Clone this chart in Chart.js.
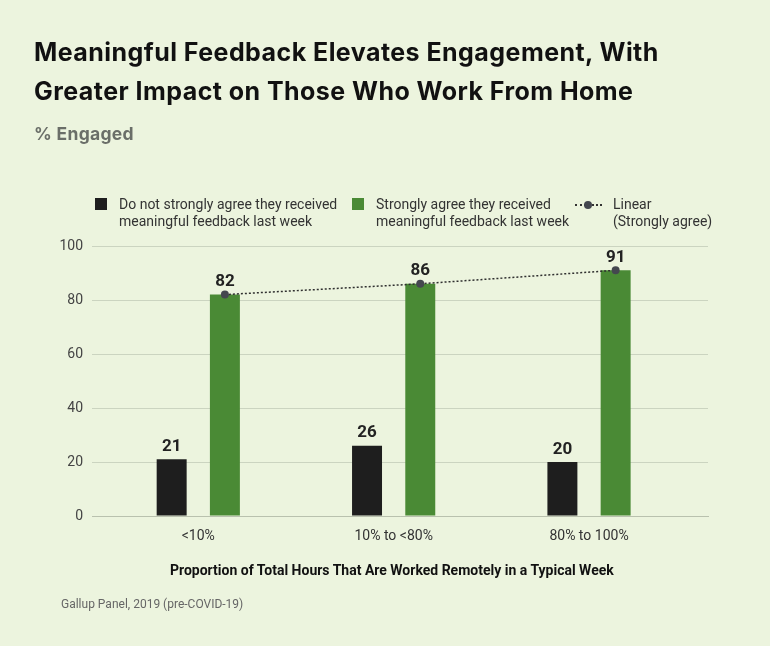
<!DOCTYPE html>
<html>
<head>
<meta charset="utf-8">
<script src="https://cdn.jsdelivr.net/npm/chart.js@4.4.1/dist/chart.umd.min.js"></script>
<style>
html, body { margin: 0; padding: 0; background: #ecf4de; }
#wrap { position: relative; width: 770px; height: 646px; overflow: hidden; background: #ecf4de; font-family: Roboto, sans-serif; }
#chart { position: absolute; left: 0; top: 0; }
.title { position: absolute; left: 34px; top: 33px; font-family: Inter, sans-serif; font-size: 25px; font-weight: 700; line-height: 39px; letter-spacing: 0.45px; color: #111; white-space: nowrap; }
.subtitle { position: absolute; left: 34px; top: 124px; font-family: Inter, sans-serif; font-size: 17.5px; font-weight: 700; line-height: 20px; letter-spacing: 0.3px; color: #6a6e68; }
.leg { position: absolute; top: 196px; font-size: 14px; line-height: 17px; color: #333; white-space: nowrap; }
.sw { position: absolute; top: 198px; width: 12px; height: 12px; }
.trend { position: absolute; left: 575px; top: 204px; width: 27px; border-top: 2px dotted #333; }
.trend span { position: absolute; left: 9px; top: -5px; width: 8px; height: 8px; border-radius: 50%; background: #44474f; }
.xtitle { position: absolute; left: 170px; top: 562px; font-size: 14px; font-weight: 700; color: #111; white-space: nowrap; }
.source { position: absolute; left: 61px; top: 597px; font-size: 12px; color: #666; white-space: nowrap; }
</style>
</head>
<body>
<div id="wrap">
  <canvas id="chart" width="770" height="646"></canvas>
  <div class="title">Meaningful Feedback Elevates Engagement, With<br>Greater Impact on Those Who Work From Home</div>
  <div class="subtitle">% Engaged</div>
  <div class="sw" style="left:95px;background:#1e1e1e"></div>
  <div class="leg" style="left:119px">Do not strongly agree they received<br>meaningful feedback last week</div>
  <div class="sw" style="left:352px;background:#4a8a35"></div>
  <div class="leg" style="left:376px">Strongly agree they received<br>meaningful feedback last week</div>
  <div class="trend"><span></span></div>
  <div class="leg" style="left:613px">Linear<br>(Strongly agree)</div>
  <div class="xtitle">Proportion of Total Hours That Are Worked Remotely in a Typical Week</div>
  <div class="source">Gallup Panel, 2019 (pre-COVID-19)</div>
</div>
<script>
var categories = ['<10%', '10% to <80%', '80% to 100%'];
var notStronglyAgree = [21, 26, 20];
var stronglyAgree = [82, 86, 91];
var yTicks = [0, 20, 40, 60, 80, 100];

var black = '#1e1e1e';
var green = '#4a8a35';

Chart.defaults.font.family = 'Roboto, sans-serif';

function points(values) {
    return values.map(function (v, i) { return {x: i, y: v}; });
}

// move the trend points onto the green bars
var trendAlign = {
    id: 'trendAlign',
    afterDatasetsUpdate: function (chart) {
        var bars = chart.getDatasetMeta(1).data;
        chart.getDatasetMeta(2).data.forEach(function (pt, i) {
            pt.x = bars[i].x;
        });
    }
};

// value labels above the bars
var barLabels = {
    id: 'barLabels',
    afterDatasetsDraw: function (chart) {
        var ctx = chart.ctx;
        ctx.save();
        ctx.font = 'bold 17px Roboto, sans-serif';
        ctx.fillStyle = '#222';
        ctx.textAlign = 'center';
        ctx.textBaseline = 'alphabetic';
        [0, 1].forEach(function (d) {
            var ds = chart.data.datasets[d];
            chart.getDatasetMeta(d).data.forEach(function (bar, i) {
                ctx.fillText(ds.data[i].y, bar.x, bar.y - 8.5);
            });
        });
        ctx.restore();
    }
};

new Chart(document.getElementById('chart'), {
    data: {
        datasets: [{
            type: 'bar',
            label: 'Do not strongly agree they received meaningful feedback last week',
            data: points(notStronglyAgree),
            backgroundColor: black,
            categoryPercentage: 0.545,
            barPercentage: 0.563,
            order: 1
        }, {
            type: 'bar',
            label: 'Strongly agree they received meaningful feedback last week',
            data: points(stronglyAgree),
            backgroundColor: green,
            categoryPercentage: 0.545,
            barPercentage: 0.563,
            order: 1
        }, {
            type: 'line',
            label: 'Linear (Strongly agree)',
            data: points(stronglyAgree),
            borderColor: '#2f2f2f',
            borderWidth: 1.5,
            borderDash: [2, 2],
            pointRadius: 4,
            pointBorderWidth: 0,
            pointBackgroundColor: '#44474f',
            tension: 0,
            order: 0
        }]
    },
    options: {
        responsive: false,
        animation: false,
        layout: {padding: {top: 246, right: 62, left: 0, bottom: 0}},
        plugins: {legend: {display: false}, tooltip: {enabled: false}},
        scales: {
            x: {
                type: 'linear',
                offset: false,
                min: -0.544,
                max: 2.609,
                grid: {display: false, drawTicks: false, offset: false},
                border: {display: true, color: '#b9c1ae', width: 1},
                ticks: {
                    stepSize: 1,
                    includeBounds: false,
                    padding: 12,
                    color: '#333',
                    font: {size: 14},
                    callback: function (v) { return categories[v]; }
                },
                afterBuildTicks: function (s) {
                    s.ticks = s.ticks.filter(function (t) { return Number.isInteger(t.value); });
                },
                afterFit: function (s) { s.height = 130; }
            },
            y: {
                min: 0,
                max: 100,
                grid: {color: '#cbd4c0', lineWidth: 1, drawTicks: false},
                border: {display: false},
                ticks: {padding: 9, color: '#444', font: {size: 14}},
                afterBuildTicks: function (s) {
                    s.ticks = yTicks.map(function (v) { return {value: v}; });
                },
                afterFit: function (s) { s.width = 92; }
            }
        }
    },
    plugins: [trendAlign, barLabels]
});
</script>
</body>
</html>
